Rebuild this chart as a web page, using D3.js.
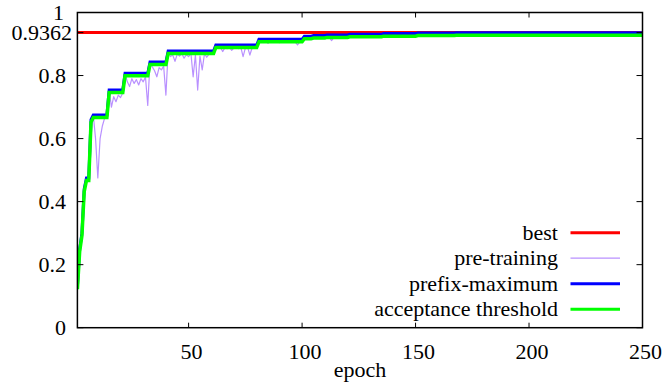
<!DOCTYPE html>
<html>
<head>
<meta charset="utf-8">
<script src="https://cdn.jsdelivr.net/npm/d3@7"></script>
<style>
  body { margin: 0; background: #fff; }
</style>
</head>
<body>
<div id="chart"></div>
<script>
// DATA
const best = 0.9362;

// pre-training value per epoch (epoch 1..250)
const preTraining = [
  0.13, 0.25, 0.30, 0.44, 0.475, 0.47, 0.66, 0.675, 0.60, 0.475,
  0.60, 0.64, 0.665, 0.67, 0.754, 0.70, 0.733, 0.717, 0.738, 0.73,
  0.745, 0.807, 0.78, 0.765, 0.79, 0.775, 0.787, 0.77, 0.79, 0.78,
  0.795, 0.705, 0.843, 0.828, 0.815, 0.796, 0.825, 0.818, 0.83, 0.738,
  0.878, 0.86, 0.865, 0.845, 0.868, 0.862, 0.87, 0.855, 0.866, 0.86,
  0.872, 0.796, 0.865, 0.754, 0.862, 0.818, 0.87, 0.858, 0.868, 0.872,
  0.875, 0.897, 0.886, 0.89, 0.876, 0.888, 0.885, 0.89, 0.88, 0.888,
  0.892, 0.885, 0.89, 0.86, 0.887, 0.89, 0.865, 0.888, 0.892, 0.89,
  0.915, 0.908, 0.905, 0.91, 0.902, 0.909, 0.906, 0.91, 0.907, 0.904,
  0.909, 0.906, 0.91, 0.905, 0.908, 0.909, 0.906, 0.897, 0.907, 0.908,
  0.925, 0.918, 0.92, 0.922, 0.927, 0.921, 0.919, 0.922, 0.92, 0.918,
  0.929, 0.922, 0.911, 0.921, 0.923, 0.92, 0.922, 0.924, 0.921, 0.923,
  0.931, 0.924, 0.926, 0.923, 0.925, 0.927, 0.924, 0.926, 0.925, 0.927,
  0.924, 0.926, 0.928, 0.925, 0.927, 0.933, 0.926, 0.928, 0.927, 0.929,
  0.926, 0.928, 0.927, 0.929, 0.928, 0.927, 0.929, 0.928, 0.927, 0.929,
  0.935, 0.929, 0.928, 0.93, 0.929, 0.928, 0.93, 0.929, 0.931, 0.929,
  0.93, 0.928, 0.93, 0.929, 0.931, 0.93, 0.929, 0.936, 0.93, 0.929,
  0.931, 0.93, 0.929, 0.931, 0.93, 0.929, 0.931, 0.93, 0.931, 0.929,
  0.93, 0.931, 0.93, 0.929, 0.931, 0.93, 0.931, 0.929, 0.93, 0.931,
  0.93, 0.929, 0.931, 0.93, 0.931, 0.93, 0.929, 0.931, 0.93, 0.931,
  0.93, 0.931, 0.929, 0.93, 0.931, 0.93, 0.931, 0.93, 0.929, 0.931,
  0.93, 0.931, 0.93, 0.931, 0.929, 0.93, 0.931, 0.93, 0.931, 0.93,
  0.931, 0.93, 0.929, 0.931, 0.93, 0.931, 0.93, 0.931, 0.93, 0.929,
  0.931, 0.93, 0.931, 0.93, 0.931, 0.93, 0.931, 0.929, 0.93, 0.931,
  0.93, 0.931, 0.93, 0.931, 0.93, 0.931, 0.93, 0.929, 0.931, 0.93
];

// prefix-maximum vertices [epoch, value]
const prefixMax = [
  [1, 0.13], [2, 0.25], [3, 0.30], [4, 0.44], [5, 0.475], [6, 0.475],
  [7, 0.66], [8, 0.675], [14, 0.675], [15, 0.754], [21, 0.754], [22, 0.807],
  [32, 0.807], [33, 0.843], [40, 0.843], [41, 0.878], [61, 0.878], [62, 0.897],
  [80, 0.897], [81, 0.915], [100, 0.915], [101, 0.925], [104, 0.925], [105, 0.927],
  [110, 0.927], [111, 0.929], [120, 0.929], [121, 0.931], [135, 0.931], [136, 0.933],
  [150, 0.933], [151, 0.935], [167, 0.935], [168, 0.936], [250, 0.936]
];

// acceptance threshold vertices [epoch, value]
const threshold = [
  [1, 0.122], [2, 0.242], [3, 0.292], [4, 0.432], [5, 0.467], [6, 0.467],
  [7, 0.652], [8, 0.667], [14, 0.667], [15, 0.746], [21, 0.746], [22, 0.799],
  [32, 0.799], [33, 0.835], [40, 0.835], [41, 0.870], [61, 0.870], [62, 0.889],
  [80, 0.889], [81, 0.907], [100, 0.907], [101, 0.917], [104, 0.917], [105, 0.919],
  [110, 0.919], [111, 0.921], [120, 0.921], [121, 0.923], [135, 0.923], [136, 0.925],
  [150, 0.925], [151, 0.927], [167, 0.927], [168, 0.928], [250, 0.928]
];

const yTicks = [0, 0.2, 0.4, 0.6, 0.8, 0.9362, 1];
const yTickLabels = ["0", "0.2", "0.4", "0.6", "0.8", "0.9362", "1"];
const xTicks = [50, 100, 150, 200, 250];

const legendNames = ["best", "pre-training", "prefix-maximum", "acceptance threshold"];
const legendColors = ["#ff0000", "#b990ff", "#0000ff", "#00ff00"];
const legendWidths = [3, 1.2, 3, 3];

// LAYOUT
const width = 663, height = 386;
const margin = {top: 12.5, right: 20.5, bottom: 58.3, left: 77.4};
const fontSize = 22;
const serif = '"Liberation Serif"';

const svg = d3.select('#chart').append('svg')
  .attr('width', width)
  .attr('height', height);

// SCALES
const xScale = d3.scaleLinear()
  .domain([1, 250])
  .range([margin.left, width - margin.right]);
const yScale = d3.scaleLinear()
  .domain([0, 1])
  .range([height - margin.bottom, margin.top]);

const x0 = xScale.range()[0], x1 = xScale.range()[1];
const yb = yScale.range()[0], yt = yScale.range()[1];

// LINES
svg.append('clipPath').attr('id', 'clip')
  .append('rect').attr('x', x0).attr('y', yt).attr('width', x1 - x0).attr('height', yb - yt);

const plot = svg.append('g').attr('clip-path', 'url(#clip)');

plot.append('line')
  .attr('x1', x0).attr('x2', x1)
  .attr('y1', yScale(best)).attr('y2', yScale(best))
  .attr('stroke', legendColors[0])
  .attr('stroke-width', 3);

const preLine = d3.line()
  .x((d, i) => xScale(i + 1))
  .y(d => yScale(d));

plot.append('path')
  .datum(preTraining)
  .attr('fill', 'none')
  .attr('stroke', legendColors[1])
  .attr('stroke-width', 1.2)
  .attr('stroke-linejoin', 'round')
  .attr('d', preLine);

const vLine = d3.line()
  .x(d => xScale(d[0]))
  .y(d => yScale(d[1]));

plot.append('path')
  .datum(prefixMax)
  .attr('fill', 'none')
  .attr('stroke', legendColors[2])
  .attr('stroke-width', 3)
  .attr('d', vLine);

plot.append('path')
  .datum(threshold)
  .attr('fill', 'none')
  .attr('stroke', legendColors[3])
  .attr('stroke-width', 3.5)
  .attr('d', vLine);

// AXES (gnuplot style: inward ticks, mirrored)
const axisG = svg.append('g').attr('stroke', '#000');

yTicks.forEach(t => {
  const y = yScale(t);
  axisG.append('line').attr('x1', x0).attr('x2', x0 + 6).attr('y1', y).attr('y2', y).attr('stroke-width', 1);
  axisG.append('line').attr('x1', x1).attr('x2', x1 - 6).attr('y1', y).attr('y2', y).attr('stroke-width', 1);
});
xTicks.forEach(t => {
  const x = xScale(t);
  axisG.append('line').attr('x1', x).attr('x2', x).attr('y1', yb).attr('y2', yb - 5).attr('stroke-width', 1);
  axisG.append('line').attr('x1', x).attr('x2', x).attr('y1', yt).attr('y2', yt + 5).attr('stroke-width', 1);
});

svg.append('rect')
  .attr('x', x0).attr('y', yt)
  .attr('width', x1 - x0).attr('height', yb - yt)
  .attr('fill', 'none')
  .attr('stroke', '#000')
  .attr('stroke-width', 1.5);

// tick labels
const labelRight = {"0.9362": 72, "1": 64};
svg.append('g').selectAll('text')
  .data(yTicks)
  .join('text')
  .attr('x', (d, i) => labelRight[yTickLabels[i]] || 66)
  .attr('y', d => yScale(d))
  .attr('dy', '0.33em')
  .attr('text-anchor', 'end')
  .style('font-family', serif)
  .style('font-size', fontSize + 'px')
  .text((d, i) => yTickLabels[i]);

svg.append('g').selectAll('text')
  .data(xTicks)
  .join('text')
  .attr('x', d => xScale(d) + 3)
  .attr('y', yb + 31.5)
  .attr('text-anchor', 'middle')
  .style('font-family', serif)
  .style('font-size', fontSize + 'px')
  .text(d => d);

svg.append('text')
  .attr('x', (x0 + x1) / 2)
  .attr('y', yb + 49)
  .attr('text-anchor', 'middle')
  .style('font-family', serif)
  .style('font-size', fontSize + 'px')
  .text('epoch');

// LEGEND
const legend = svg.append('g');
legendNames.forEach((name, i) => {
  const y = 232.7 + i * 25.5;
  legend.append('text')
    .attr('x', 558)
    .attr('y', y)
    .attr('dy', '0.33em')
    .attr('text-anchor', 'end')
    .style('font-family', serif)
    .style('font-size', fontSize + 'px')
    .text(name);
  legend.append('line')
    .attr('x1', 570.5).attr('x2', 620)
    .attr('y1', y).attr('y2', y)
    .attr('stroke', legendColors[i])
    .attr('stroke-width', legendWidths[i]);
});
</script>
</body>
</html>
